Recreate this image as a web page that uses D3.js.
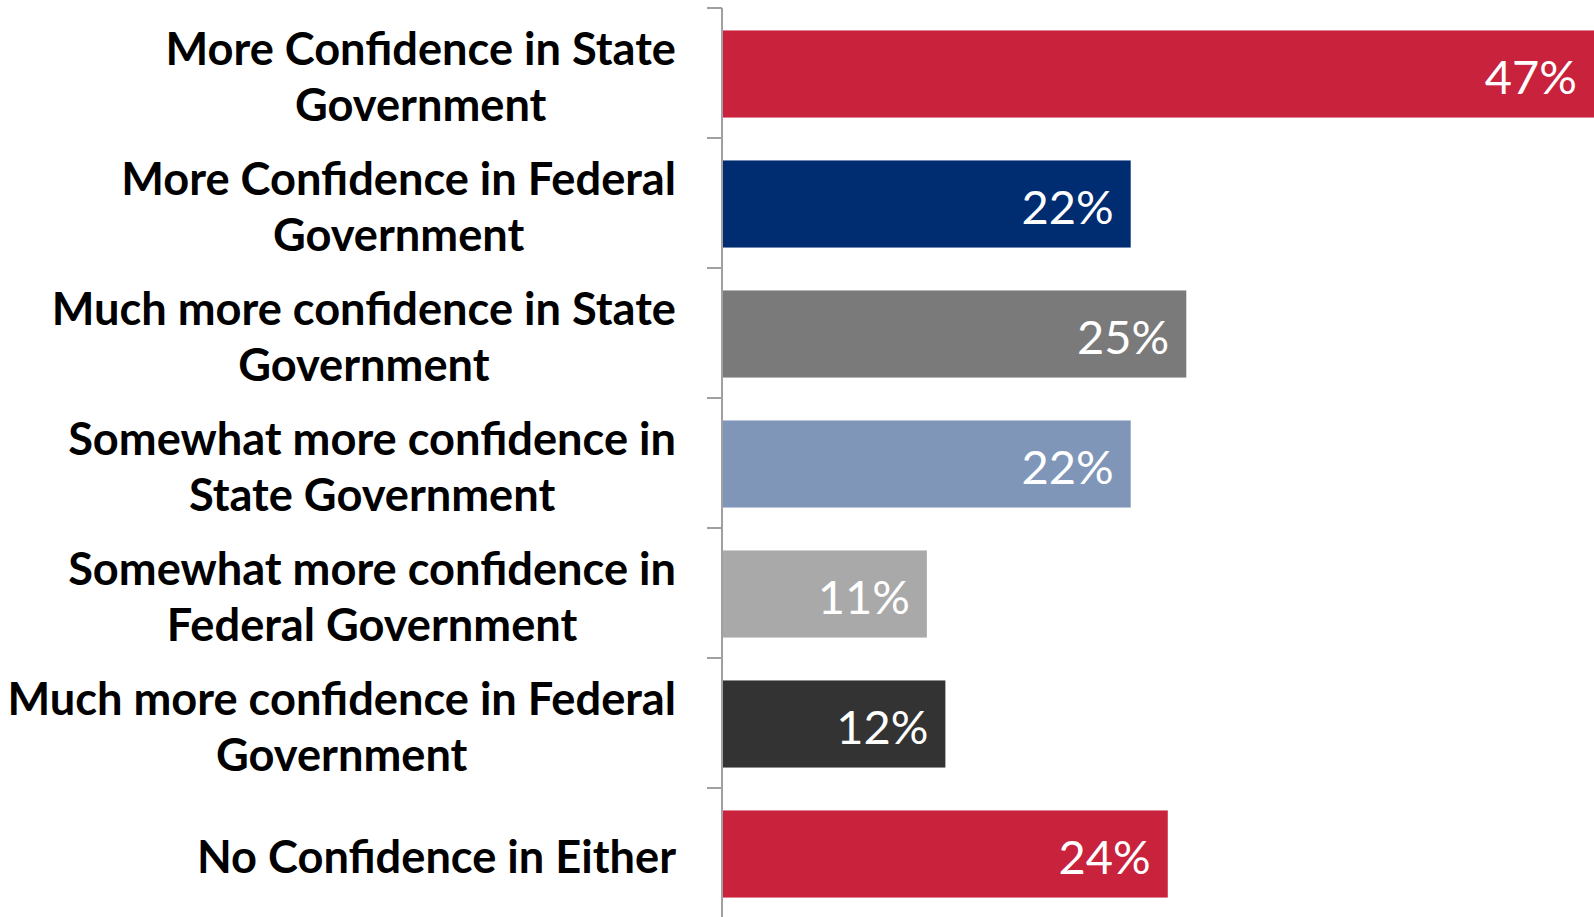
<!DOCTYPE html>
<html>
<head>
<meta charset="utf-8">
<script src="https://cdn.jsdelivr.net/npm/d3@7"></script>
<style>
  html, body { margin: 0; padding: 0; background: #fff; }
  svg { display: block; }
</style>
</head>
<body>
<svg id="chart" width="1594" height="917"></svg>
<script>
const categories = [
  "More Confidence in State\nGovernment",
  "More Confidence in Federal\nGovernment",
  "Much more confidence in State\nGovernment",
  "Somewhat more confidence in\nState Government",
  "Somewhat more confidence in\nFederal Government",
  "Much more confidence in Federal\nGovernment",
  "No Confidence in Either"
];
const values = [47, 22, 25, 22, 11, 12, 24];
const colors = ["#C8223C", "#002D72", "#7A7A7A", "#8096B9", "#A9A9A9", "#333333", "#C8223C"];

const svg = d3.select("#chart");
const axisX = 722;

const x = d3.scaleLinear().domain([0, 47]).range([axisX + 1, 1594]);
const y = d3.scaleBand().domain(categories).range([8, 918]).paddingInner(0.33).paddingOuter(0.165);

// bars
svg.append("g").selectAll("rect").data(categories).join("rect")
  .attr("x", x(0))
  .attr("y", d => y(d) + 1)
  .attr("width", (d, i) => x(values[i]) - x(0))
  .attr("height", y.bandwidth())
  .attr("fill", (d, i) => colors[i]);

// value labels
svg.append("g").selectAll("text").data(categories).join("text")
  .attr("x", (d, i) => x(values[i]) - 17)
  .attr("y", d => y(d) + y.bandwidth() / 2)
  .attr("dy", "0.44em")
  .attr("text-anchor", "end")
  .attr("fill", "#fff")
  .style("font-family", "Lato, 'Open Sans', sans-serif")
  .style("font-size", "47px")
  .text((d, i) => values[i] + "%");

// axis line with ticks at band boundaries
const boundaries = categories.map(d => y(d) - y.step() * y.paddingInner() / 2);
boundaries.push(y.range()[1]);
const axisG = svg.append("g");
axisG.append("line")
  .attr("x1", axisX).attr("x2", axisX)
  .attr("y1", boundaries[0]).attr("y2", 917)
  .attr("stroke", "#A0A0A0").attr("stroke-width", 2);
axisG.selectAll("line.tick").data(boundaries).join("line")
  .attr("class", "tick")
  .attr("x1", axisX - 15).attr("x2", axisX)
  .attr("y1", d => d).attr("y2", d => d)
  .attr("stroke", "#A0A0A0").attr("stroke-width", 2);

// category labels
const lab = svg.append("g").selectAll("text").data(categories).join("text")
  .attr("text-anchor", "middle")
  .attr("fill", "#000")
  .style("font-family", "Lato, 'Open Sans', sans-serif")
  .style("font-weight", "bold")
  .style("font-size", "45.2px");

lab.each(function(d) {
  const lines = d.split("\n");
  const cy = y(d) + y.bandwidth() / 2;
  const t = d3.select(this);
  const lh = 56;
  lines.forEach((ln, k) => {
    t.append("tspan")
      .attr("y", cy + (k - (lines.length - 1) / 2) * lh)
      .attr("dy", "0.45em")
      .text(ln);
  });
});
// position: right edge of widest line at x=676, lines centered on each other
lab.each(function() {
  const t = d3.select(this);
  let maxW = 0;
  t.selectAll("tspan").each(function() { maxW = Math.max(maxW, this.getComputedTextLength()); });
  t.selectAll("tspan").attr("x", 676 - maxW / 2);
});
</script>
</body>
</html>
